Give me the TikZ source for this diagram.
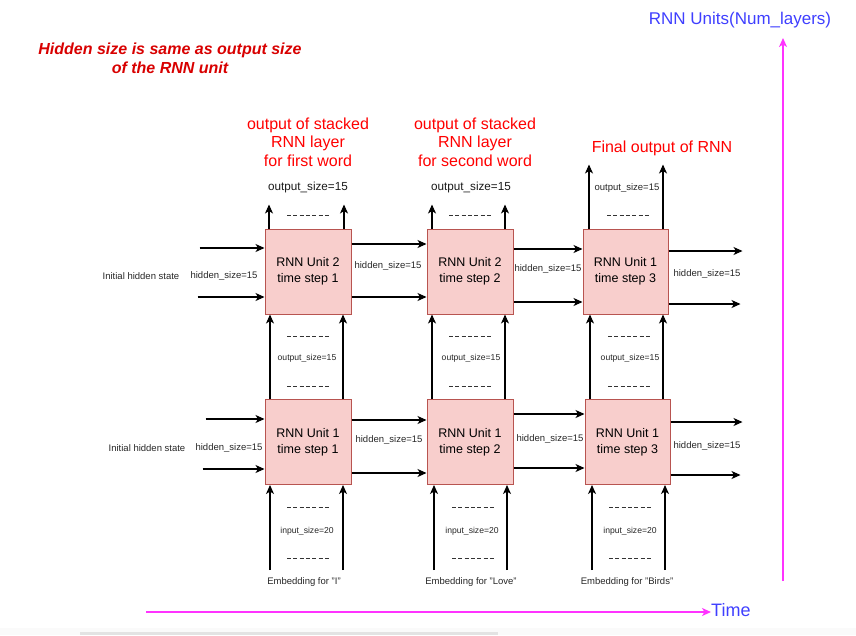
\documentclass[tikz,border=0pt]{standalone}
\usepackage{fontspec}
\setmainfont{Liberation Sans}
\usetikzlibrary{arrows.meta,calc}
\definecolor{boxfill}{HTML}{F8CECC}
\definecolor{boxline}{HTML}{B85450}
\definecolor{redtxt}{HTML}{FF0000}
\definecolor{darkred}{HTML}{D80000}
\definecolor{bluetxt}{HTML}{3F3FFF}
\definecolor{mag}{HTML}{FF33FF}
\begin{document}
\begin{tikzpicture}[x=1pt,y=-1pt,
  rnnbox/.style={draw=boxline,fill=boxfill,line width=1pt,minimum width=86pt,minimum height=85pt,inner sep=0pt,align=center,font=\fontsize{12.5}{15.7}\selectfont},
  arr/.style={line width=1.1pt,-{Stealth[length=9pt,width=8pt,inset=2.5pt]}},
  magarr/.style={draw=mag,line width=1.4pt,-{Stealth[length=9pt,width=8pt,inset=2.5pt]}},
  dots/.style={line width=0.9pt,draw=black!80,dash pattern=on 4pt off 2.3pt},
  lbl/.style={inner sep=0pt,font=\fontsize{9.5}{11}\selectfont,text=black!85},
  smlbl/.style={inner sep=0pt,font=\fontsize{8.6}{10}\selectfont,text=black!85},
  outlbl/.style={inner sep=0pt,font=\fontsize{11.7}{13}\selectfont,text=black!90},
  redtitle/.style={inner sep=0pt,align=center,text=redtxt,font=\fontsize{16}{18.5}\selectfont},
]
\useasboundingbox (0,0) rectangle (856,635);
% screenshot bottom strip
\fill[black!2] (0,628) rectangle (856,635);
\fill[black!11] (80,631.5) rectangle (498,635);

% boxes
\node[rnnbox] (T1) at (308,271.5) {RNN Unit 2\\time step 1};
\node[rnnbox] (T2) at (470,271.5) {RNN Unit 2\\time step 2};
\node[rnnbox,minimum width=85pt] (T3) at (625.5,271.5) {RNN Unit 1\\time step 3};
\node[rnnbox] (B1) at (308,442) {RNN Unit 1\\time step 1};
\node[rnnbox] (B2) at (470,442) {RNN Unit 1\\time step 2};
\node[rnnbox,minimum width=85pt] (B3) at (627.5,442) {RNN Unit 1\\time step 3};

% titles
\node[inner sep=0pt,align=center,text=darkred,font=\fontsize{16}{19}\selectfont\bfseries\itshape] (note) at (170,58) {Hidden size is same as output size\\of the RNN unit};
\node[redtitle] (title1) at (308,142) {output of stacked\\RNN layer\\for first word};
\node[redtitle] (title2) at (475,142) {output of stacked\\RNN layer\\for second word};
\node[redtitle] (title3) at (662,148) {Final output of RNN};
\node[inner sep=0pt,text=bluetxt,font=\fontsize{17}{20}\selectfont] (units) at (740,20) {RNN Units(Num\_layers)};
\node[inner sep=0pt,anchor=west,text=bluetxt,font=\fontsize{18}{21}\selectfont] (time) at (711,610) {Time};

% axes
\coordinate (tstart) at (146,612);
\coordinate (vstart) at (783,581);
\coordinate (vend) at (783,38);
\draw[magarr] (tstart) -- (time.west |- tstart);
\draw[magarr] (vstart) -- (vend);

% top outputs
\draw[arr] (T1.north -| 269,0) -- ++(0,-24);
\draw[arr] (T1.north -| 344,0) -- ++(0,-24);
\draw[arr] (T2.north -| 432,0) -- ++(0,-24);
\draw[arr] (T2.north -| 505,0) -- ++(0,-24);
\draw[arr] (T3.north -| 589,0) -- ++(0,-64);
\draw[arr] (T3.north -| 663,0) -- ++(0,-64);
\node[outlbl] (o1) at (308,187) {output\_size=15};
\node[outlbl] (o2) at (471,187) {output\_size=15};
\node[lbl] (o3) at (627,188) {output\_size=15};
\draw[dots] (287,215) -- (329,215);
\draw[dots] (449,215) -- (492,215);
\draw[dots] (607,215) -- (649,215);

% between rows
\draw[arr] (B1.north -| 270,0) -- (T1.south -| 270,0);
\draw[arr] (B1.north -| 343,0) -- (T1.south -| 343,0);
\draw[arr] (B2.north -| 432,0) -- (T2.south -| 432,0);
\draw[arr] (B2.north -| 505,0) -- (T2.south -| 505,0);
\draw[arr] (B3.north -| 590,0) -- (T3.south -| 590,0);
\draw[arr] (B3.north -| 663,0) -- (T3.south -| 663,0);
\draw[dots] (287,336) -- (329,336);
\draw[dots] (287,386) -- (329,386);
\draw[dots] (449,336) -- (491,336);
\draw[dots] (449,386) -- (491,386);
\draw[dots] (608,336) -- (650,336);
\draw[dots] (608,386) -- (650,386);
\node[smlbl] (m1) at (307,358) {output\_size=15};
\node[smlbl] (m2) at (471,358) {output\_size=15};
\node[smlbl] (m3) at (630,358) {output\_size=15};

% bottom inputs
\draw[arr] ($(B1.south -| 270,0)+(0,85)$) -- (B1.south -| 270,0);
\draw[arr] ($(B1.south -| 343,0)+(0,85)$) -- (B1.south -| 343,0);
\draw[arr] ($(B2.south -| 434,0)+(0,85)$) -- (B2.south -| 434,0);
\draw[arr] ($(B2.south -| 507,0)+(0,85)$) -- (B2.south -| 507,0);
\draw[arr] ($(B3.south -| 592,0)+(0,85)$) -- (B3.south -| 592,0);
\draw[arr] ($(B3.south -| 665,0)+(0,85)$) -- (B3.south -| 665,0);
\draw[dots] (287,507) -- (329,507);
\draw[dots] (287,558) -- (329,558);
\draw[dots] (452,507) -- (494,507);
\draw[dots] (452,558) -- (494,558);
\draw[dots] (609,507) -- (651,507);
\draw[dots] (609,558) -- (651,558);
\node[smlbl] (i1) at (307,531) {input\_size=20};
\node[smlbl] (i2) at (472,531) {input\_size=20};
\node[smlbl] (i3) at (630,531) {input\_size=20};
\node[lbl] (e1) at (304,582) {Embedding for "I"};
\node[lbl] (e2) at (471,582) {Embedding for "Love"};
\node[lbl] (e3) at (627,582) {Embedding for "Birds"};

% top row horizontals
\draw[arr] ($(T1.west |- 0,248)+(-65,0)$) -- (T1.west |- 0,248);
\draw[arr] ($(T1.west |- 0,297)+(-67,0)$) -- (T1.west |- 0,297);
\draw[arr] (T1.east |- 0,244) -- (T2.west |- 0,244);
\draw[arr] (T1.east |- 0,297) -- (T2.west |- 0,297);
\draw[arr] (T2.east |- 0,249) -- (T3.west |- 0,249);
\draw[arr] (T2.east |- 0,302) -- (T3.west |- 0,302);
\draw[arr] (T3.east |- 0,251) -- ++(74,0);
\draw[arr] (T3.east |- 0,304) -- ++(72,0);
\node[lbl] (ih1) at (141,276) {Initial hidden state};
\node[lbl] (h10) at (224,276) {hidden\_size=15};
\node[lbl] (h11) at (388,266) {hidden\_size=15};
\node[lbl] (h12) at (548,269) {hidden\_size=15};
\node[lbl] (h13) at (707,274) {hidden\_size=15};

% bottom row horizontals
\draw[arr] ($(B1.west |- 0,419)+(-59,0)$) -- (B1.west |- 0,419);
\draw[arr] ($(B1.west |- 0,469)+(-62,0)$) -- (B1.west |- 0,469);
\draw[arr] (B1.east |- 0,420) -- (B2.west |- 0,420);
\draw[arr] (B1.east |- 0,473) -- (B2.west |- 0,473);
\draw[arr] (B2.east |- 0,414) -- (B3.west |- 0,414);
\draw[arr] (B2.east |- 0,468) -- (B3.west |- 0,468);
\draw[arr] (B3.east |- 0,422) -- ++(72,0);
\draw[arr] (B3.east |- 0,475) -- ++(70,0);
\node[lbl] (ih2) at (147,448) {Initial hidden state};
\node[lbl] (h20) at (229,448) {hidden\_size=15};
\node[lbl] (h21) at (389,440) {hidden\_size=15};
\node[lbl] (h22) at (550,439) {hidden\_size=15};
\node[lbl] (h23) at (707,446) {hidden\_size=15};
\end{tikzpicture}
\end{document}
